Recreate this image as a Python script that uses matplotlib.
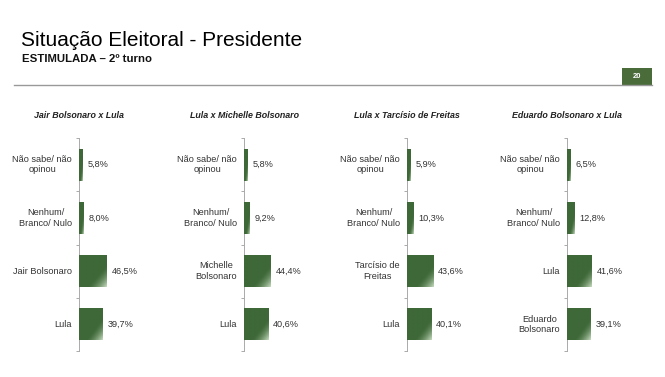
import numpy as np
import matplotlib.pyplot as plt
from matplotlib.colors import to_rgb

plt.rcParams['font.family'] = ['Liberation Sans', 'DejaVu Sans']

# data, one list per panel (top to bottom)
titles = ['Jair Bolsonaro x Lula', 'Lula x Michelle Bolsonaro',
          'Lula x Tarcísio de Freitas', 'Eduardo Bolsonaro x Lula']
labels_1 = ['Não sabe/ não\nopinou', 'Nenhum/\nBranco/ Nulo', 'Jair Bolsonaro', 'Lula']
labels_2 = ['Não sabe/ não\nopinou', 'Nenhum/\nBranco/ Nulo', 'Michelle\nBolsonaro', 'Lula']
labels_3 = ['Não sabe/ não\nopinou', 'Nenhum/\nBranco/ Nulo', 'Tarcísio de\nFreitas', 'Lula']
labels_4 = ['Não sabe/ não\nopinou', 'Nenhum/\nBranco/ Nulo', 'Lula', 'Eduardo\nBolsonaro']
values_1 = [5.8, 8.0, 46.5, 39.7]
values_2 = [5.8, 9.2, 44.4, 40.6]
values_3 = [5.9, 10.3, 43.6, 40.1]
values_4 = [6.5, 12.8, 41.6, 39.1]

labels = [labels_1, labels_2, labels_3, labels_4]
values = [values_1, values_2, values_3, values_4]

W, H = 665, 377
fig = plt.figure(figsize=(W / 100, H / 100), dpi=100)

def px_axes(x, top, w, h):
    return fig.add_axes([x / W, 1 - (top + h) / H, w / W, h / H])

dark = np.array(to_rgb('#3e6838'))
light = np.array(to_rgb('#c4dabd'))
gx, gy = np.meshgrid(np.linspace(0, 1, 40), np.linspace(0, 1, 40))
t = np.clip((gx + gy - 1.3) / 0.7, 0, 1) ** 1.6
grad = dark + (light - dark) * t[..., None]

axis_x = [79, 244, 407, 567]
for i in range(4):
    ax = px_axes(axis_x[i], 138, 60, 213)
    n = len(values[i])
    ys = np.arange(n)[::-1]
    bars = ax.barh(ys, values[i], height=0.6, color=dark, edgecolor='none')
    for b, yc, v, lab in zip(bars, ys, values[i], labels[i]):
        im = ax.imshow(grad, extent=(0, v, yc - 0.3, yc + 0.3), origin='upper',
                       aspect='auto', zorder=3, interpolation='bilinear')
        im.set_clip_path(b)
        ax.annotate(f'{v:.1f}%'.replace('.', ','), (v, yc), xytext=(3.5, 0),
                    textcoords='offset points', ha='left', va='center',
                    fontsize=6.6, color='#333333')
        ax.annotate(lab, (0, yc), xytext=(-5, 0), textcoords='offset points',
                    ha='right', va='center', multialignment='center',
                    fontsize=6.6, color='#333333')
    ax.set_xlim(0, 100)
    ax.set_ylim(-0.5, n - 0.5)
    ax.set_yticks(np.arange(n + 1) - 0.5)
    ax.set_yticklabels([])
    ax.set_xticks([])
    ax.tick_params(axis='y', length=2.5, color='#aaaaaa', width=0.7)
    for s in ['top', 'right', 'bottom']:
        ax.spines[s].set_visible(False)
    ax.spines['left'].set_color('#aaaaaa')
    ax.spines['left'].set_linewidth(0.7)
    ax.patch.set_alpha(0)
    fig.text(axis_x[i] / W, 1 - 116 / H, titles[i], ha='center', va='center',
             fontsize=6.4, fontweight='bold', fontstyle='italic', color='#222222')

# header
fig.text(21 / W, 1 - 46 / H, 'Situação Eleitoral - Presidente', fontsize=15,
         va='baseline', ha='left', color='#000000')
fig.text(22 / W, 1 - 61.5 / H, 'ESTIMULADA – 2º turno', fontsize=8.2,
         fontweight='bold', va='baseline', ha='left', color='#111111')
fig.add_artist(plt.Line2D([14 / W, 652 / W], [1 - 85 / H, 1 - 85 / H],
                          color='#999999', lw=1))
fig.add_artist(plt.Rectangle((622 / W, 1 - 85 / H), 30 / W, 17 / H,
                             color='#4a6b3a', lw=0))
fig.text(637 / W, 1 - 76.5 / H, '20', fontsize=5.5, fontweight='bold',
         color='white', ha='center', va='center')

fig.savefig('out.png', dpi=100)
